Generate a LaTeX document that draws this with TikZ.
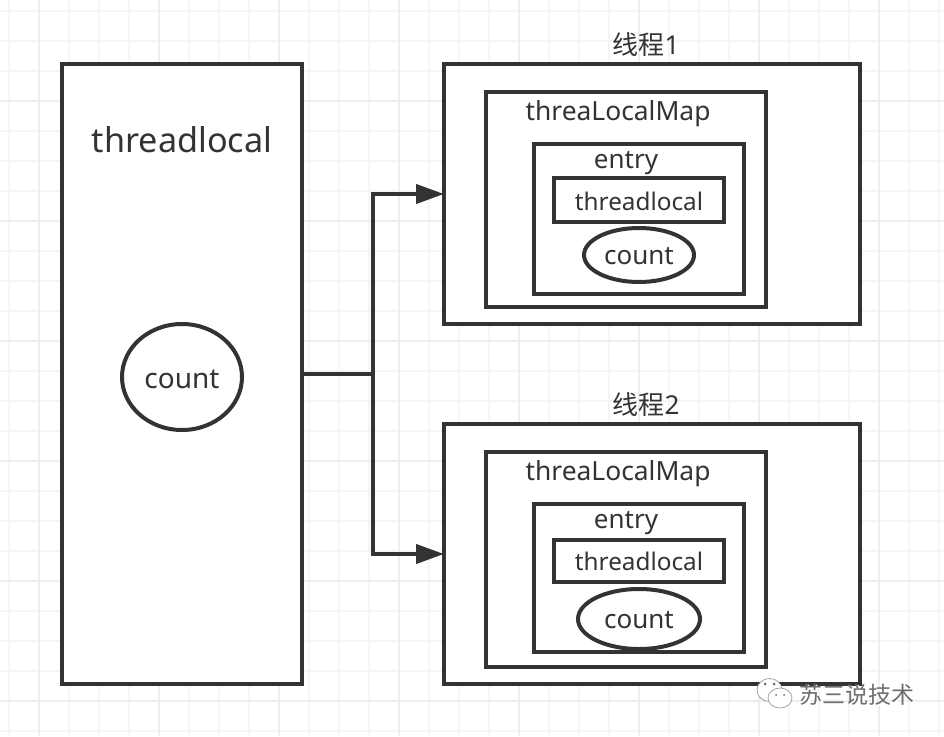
\documentclass[tikz,border=0pt]{standalone}
\usepackage{fontspec}
\setmainfont{Noto Sans}
\newfontfamily\cjk{Noto Sans CJK SC}
\usetikzlibrary{positioning}
\usetikzlibrary{shapes.geometric}
\usetikzlibrary{arrows.meta}
\definecolor{inkgrey}{HTML}{333333}
\definecolor{gridminor}{HTML}{F5F5F5}
\definecolor{gridmajor}{HTML}{EEEEEE}
\definecolor{markgrey}{HTML}{6E6E6E}
\tikzset{
	box/.style={draw=inkgrey, line width=4pt, fill=white, rectangle, inner sep=0pt, outer sep=0pt},
	oval/.style={draw=inkgrey, line width=4pt, fill=white, ellipse, inner sep=0pt, outer sep=0pt, text=inkgrey, text depth=0pt, font=\fontsize{26}{30}\selectfont},
	label/.style={text=inkgrey, inner sep=0pt, font=\fontsize{26}{30}\selectfont},
	link/.style={draw=inkgrey, line width=4pt},
	tip/.style={-{Triangle[length=28pt,width=19pt]}},
	wxhead/.style={draw=markgrey!70, fill=white, ellipse, line width=0.7pt, inner sep=0pt},
	wxeye/.style={fill=markgrey, circle, minimum size=3pt, inner sep=0pt}
}

\begin{document}
\begin{tikzpicture}[x=1pt,y=-1pt]
	\useasboundingbox (0,0) rectangle (944,736);
	\fill [white] (0,0) rectangle (944,736);
	
	% Grid
	\foreach \gx in {9,69,99,129,189,219,249,309,339,369,429,459,489,549,579,609,669,699,729,789,819,849,909,939}
		\draw [gridminor, line width=2pt] (\gx,0) -- (\gx,736);
	\foreach \gy in {11,41,71,131,161,191,251,281,311,371,401,431,491,521,551,611,641,671,731}
		\draw [gridminor, line width=2pt] (0,\gy) -- (944,\gy);
	\foreach \gx in {39,159,279,399,519,639,759,879}
		\draw [gridmajor, line width=2pt] (\gx,0) -- (\gx,736);
	\foreach \gy in {101,221,341,461,581,701}
		\draw [gridmajor, line width=2pt] (0,\gy) -- (944,\gy);
	
	% Left box
	\node [box, minimum width=240pt, minimum height=620pt] at (182,374) (tlbox) {};
	\node [label, font=\fontsize{34.2}{40}\selectfont] at (182,140) (tltitle) {threadlocal};
	\node [oval, minimum width=120pt, minimum height=106pt, text height=23pt, font=\fontsize{28}{32}\selectfont] at (182,377) (tlcount) {count};
	
	% Thread 1
	\node [box, minimum width=416pt, minimum height=260pt] at (652,194) (t1) {};
	\node [label, above=7pt of t1.north, xshift=-6pt] (t1title) {{\cjk 线程}1};
	\node [box, minimum width=280pt, minimum height=215pt, below right=28pt and 42pt of t1.north west] (t1map) {};
	\node [label, font=\fontsize{26.4}{30}\selectfont] at (618,113.5) (t1maptitle) {threaLocalMap};
	\node [box, minimum width=210pt, minimum height=150pt, below right=52pt and 48pt of t1map.north west] (t1entry) {};
	\node [label] at (626,163) (t1entrytitle) {entry};
	\node [box, minimum width=170pt, minimum height=44pt, below right=34pt and 20pt of t1entry.north west, text=inkgrey, text height=21pt, text depth=0pt, font=\fontsize{24.3}{30}\selectfont] (t1local) {threadlocal};
	\node [oval, minimum width=110pt, minimum height=54pt, text height=18pt] at (639,255) (t1count) {count};
	
	% Thread 2
	\node [box, minimum width=416pt, minimum height=260pt] at (652,554) (t2) {};
	\node [label, above=7pt of t2.north, xshift=-6pt] (t2title) {{\cjk 线程}2};
	\node [box, minimum width=280pt, minimum height=215pt, below right=28pt and 42pt of t2.north west] (t2map) {};
	\node [label, font=\fontsize{26.4}{30}\selectfont] at (618,473.5) (t2maptitle) {threaLocalMap};
	\node [box, minimum width=210pt, minimum height=148pt, below right=52pt and 48pt of t2map.north west] (t2entry) {};
	\node [label] at (626,523) (t2entrytitle) {entry};
	\node [box, minimum width=170pt, minimum height=42pt, below right=36pt and 20pt of t2entry.north west, text=inkgrey, font=\fontsize{24.3}{30}\selectfont] (t2local) {threadlocal};
	\node [oval, minimum width=122pt, minimum height=60pt, text height=18pt] at (639,619) (t2count) {count};
	
	% Connections
	\coordinate (fork) at (373,374);
	\draw [link] (tlbox.east) -- (fork);
	\draw [link, tip] (fork) |- (t1.west);
	\draw [link, tip] (fork) |- (t2.west);
	
	% Watermark
	\node [wxhead, minimum width=25pt, minimum height=23pt] at (769.5,690) (wxback) {};
	\node [wxeye] at (765,684) (wxeyea) {};
	\node [wxeye] at (774,684) (wxeyeb) {};
	\node [wxhead, minimum width=24pt, minimum height=20pt] at (780,698) (wxfront) {};
	\node [wxeye, minimum size=2pt] at (776,695) (wxeyec) {};
	\node [wxeye, minimum size=2pt] at (784,695) (wxeyed) {};
	\node [text=white, inner sep=0pt, font=\cjk\fontsize{23}{26}\selectfont] at (858.5,696) (marksoft) {苏三说技术};
	\node [text=markgrey, inner sep=0pt, font=\cjk\fontsize{23}{26}\selectfont] at (857,695) (marktext) {苏三说技术};
	
\end{tikzpicture}
\end{document}
